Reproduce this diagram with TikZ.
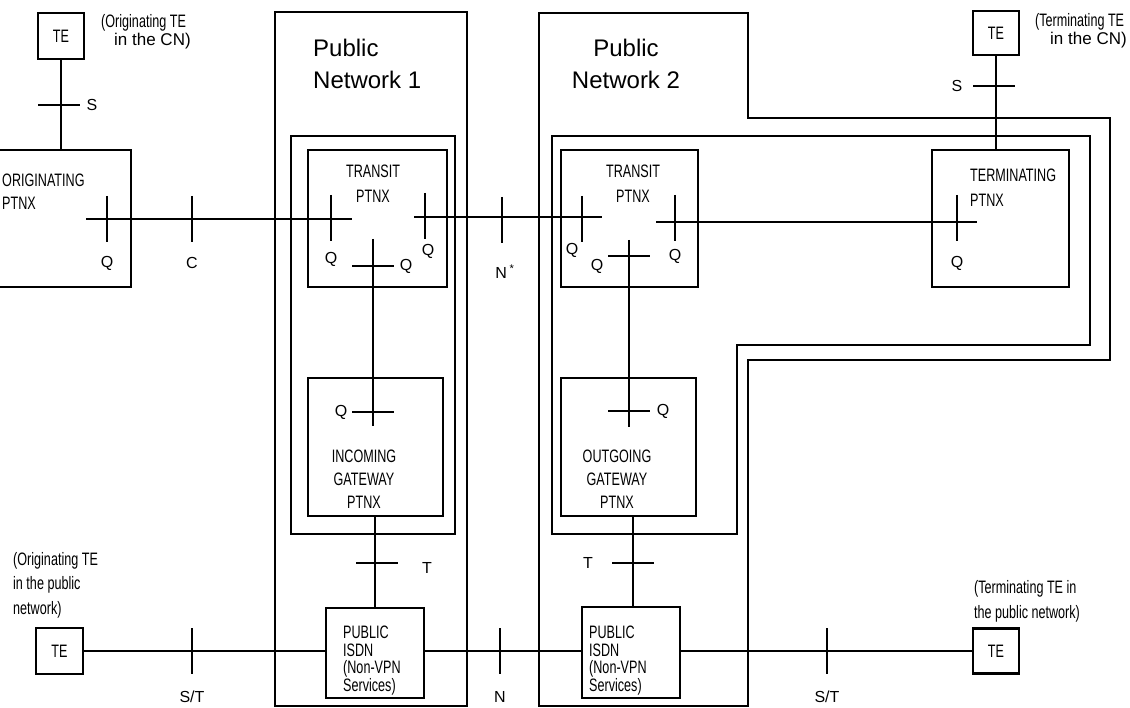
\documentclass[tikz,border=0pt]{standalone}
\usepackage{fontspec}
\setmainfont{Liberation Sans}
\newfontfamily\etroite[FakeStretch=0.7]{Liberation Sans}
\usepackage{tikz}

\begin{document}
\begin{tikzpicture}[x=1pt,y=-1pt,
	trait/.style={line width=2.2pt},
	boite/.style={draw,line width=2.2pt,inner sep=0pt},
	lettre/.style={inner sep=0pt,font=\fontsize{16}{18}\selectfont},
	etiquette/.style={inner sep=0pt,font=\etroite\fontsize{18}{25}\selectfont},
	grand/.style={inner sep=0pt,font=\fontsize{24}{32}\selectfont}]
	%
	% Barres d'interface
	\def\barreV(#1,#2){\draw[trait] (#1,#2-23) -- (#1,#2+23);}
	\def\barreH(#1,#2){\draw[trait] (#1-21,#2) -- (#1+21,#2);}
	%
	\useasboundingbox (0,0) rectangle (1130,708);
	%
	% Réseaux publics et VPN
	\draw[trait] (275,12) rectangle (467,706);
	\draw[trait] (291,136) rectangle (455,534);
	\draw[trait] (539,13) -- (748,13) -- (748,118) -- (1110,118) -- (1110,360) -- (748,360) -- (748,706) -- (539,706) -- cycle;
	\draw[trait] (552,136) -- (1090,136) -- (1090,345) -- (737,345) -- (737,534) -- (552,534) -- cycle;
	\node[grand,anchor=north west,align=left] (pn1) at (313,39) {Public\\Network 1};
	\node[grand,anchor=north,align=center] (pn2) at (626,39) {Public\\Network 2};
	%
	% PTNX
	\node[boite,minimum width=46,minimum height=46] (teO) at (61,36) {\etroite\fontsize{18}{20}\selectfont TE};
	\node[boite,minimum width=151,minimum height=137] (ptnxO) at (55.5,218.5) {};
	\node[boite,minimum width=139,minimum height=137] (tp1) at (377.5,218.5) {};
	\node[boite,minimum width=135,minimum height=138] (ig) at (375.5,447) {};
	\node[boite,minimum width=98,minimum height=90] (isdn1) at (375,653) {};
	\node[boite,minimum width=137,minimum height=137] (tp2) at (629.5,218.5) {};
	\node[boite,minimum width=135,minimum height=138] (og) at (628.5,447) {};
	\node[boite,minimum width=98,minimum height=91] (isdn2) at (631,652.5) {};
	\node[boite,minimum width=137,minimum height=137] (tT) at (1000.5,218.5) {};
	\node[boite,minimum width=46,minimum height=44] (teT) at (996,33) {\etroite\fontsize{18}{20}\selectfont TE};
	\node[boite,minimum width=47,minimum height=46] (teP1) at (59.5,651) {\etroite\fontsize{18}{20}\selectfont TE};
	\node[boite,minimum width=46,minimum height=45] (teP2) at (996,651) {\etroite\fontsize{18}{20}\selectfont TE};
	%
	% Textes des boites
	\node[etiquette,anchor=north west,align=left,font=\etroite\fontsize{18}{23}\selectfont] (txtO) at (2,174) {ORIGINATING\\PTNX};
	\node[etiquette,anchor=north,align=center] (txtT1) at (373,165) {TRANSIT\\PTNX};
	\node[etiquette,anchor=north,align=center] (txtT2) at (633,165) {TRANSIT\\PTNX};
	\node[etiquette,anchor=north west,align=left] (txtTerm) at (970,169) {TERMINATING\\PTNX};
	\node[etiquette,anchor=north,align=center,font=\etroite\fontsize{18}{23}\selectfont] (txtIg) at (364,450) {INCOMING\\GATEWAY\\PTNX};
	\node[etiquette,anchor=north,align=center,font=\etroite\fontsize{18}{23}\selectfont] (txtOg) at (617,450) {OUTGOING\\GATEWAY\\PTNX};
	\node[etiquette,anchor=north west,align=left,font=\etroite\fontsize{18}{17.5}\selectfont] (txtI1) at (343,626) {PUBLIC\\ISDN\\(Non-VPN\\Services)};
	\node[etiquette,anchor=north west,align=left,font=\etroite\fontsize{18}{17.5}\selectfont] (txtI2) at (589,626) {PUBLIC\\ISDN\\(Non-VPN\\Services)};
	%
	% Annotations des TE
	\node[etiquette,anchor=base west] (annO1) at (101,28) {(Originating TE};
	\node[lettre,anchor=base west,font=\fontsize{17}{20}\selectfont] (annO2) at (114,46) {in the CN)};
	\node[etiquette,anchor=base west] (annT1) at (1035,27) {(Terminating TE};
	\node[lettre,anchor=base west,font=\fontsize{17}{20}\selectfont] (annT2) at (1050,45) {in the CN)};
	\node[etiquette,anchor=north west,align=left,font=\etroite\fontsize{18}{24.5}\selectfont] (annP1) at (13,552) {(Originating TE\\in the public\\network)};
	\node[etiquette,anchor=north west,align=left] (annP2) at (974,580) {(Terminating TE in\\the public network)};
	%
	% Liaisons
	\coordinate (qOrig) at (86,219);
	\coordinate (qT1g) at (352,219);
	\coordinate (qT1d) at (414,217);
	\coordinate (qT2g) at (602,217);
	\coordinate (qT2d) at (656,222);
	\coordinate (qTerm) at (977,222);
	\coordinate (qT1b) at (373,239);
	\coordinate (qInc) at (373,426);
	\coordinate (qT2b) at (629,240);
	\coordinate (qOut) at (629,427);
	\draw[trait] (teO.south) -- (teO.south |- ptnxO.north);
	\draw[trait] (teT.south) -- (teT.south |- tT.north);
	\draw[trait] (qOrig) -- (qT1g);
	\draw[trait] (qT1d) -- (qT2g);
	\draw[trait] (qT2d) -- (qTerm);
	\draw[trait] (qT1b) -- (qInc);
	\draw[trait] (qT2b) -- (qOut);
	\draw[trait] (isdn1.north |- ig.south) -- (isdn1.north);
	\draw[trait] ([xshift=2]isdn2.north |- og.south) -- ([xshift=2]isdn2.north);
	\draw[trait] (teP1.east) -- (teP1.east -| isdn1.west);
	\draw[trait] (isdn1.east |- teP1.east) -- (isdn2.west |- teP1.east);
	\draw[trait] (isdn2.east |- teP1.east) -- (teP2.west |- teP1.east);
	%
	% Points de référence
	\barreH(59,105) \barreH(994,86)
	\barreV(107,219) \barreV(192,219) \barreV(331,218) \barreV(425,216) \barreV(502,220)
	\barreV(582,219) \barreV(675,218) \barreV(957,218)
	\barreH(373,266) \barreH(629,256) \barreH(373,412) \barreH(629,411)
	\barreH(377,563) \barreH(633,563)
	\barreV(192,651) \barreV(500,651) \barreV(827,651)
	%
	\node[lettre] (lS1) at (92,105) {S};
	\node[lettre] (lS2) at (957,86) {S};
	\node[lettre] (lQ1) at (107,263) {Q};
	\node[lettre] (lC) at (192,263) {C};
	\node[lettre] (lQ2) at (331,259) {Q};
	\node[lettre] (lQ3) at (406,266) {Q};
	\node[lettre] (lQ4) at (428,251) {Q};
	\node[lettre] (lN1) at (505,272) {N\,\textsuperscript{*}};
	\node[lettre] (lQ5) at (572,250) {Q};
	\node[lettre] (lQ6) at (597,266) {Q};
	\node[lettre] (lQ7) at (675,256) {Q};
	\node[lettre] (lQ8) at (957,263) {Q};
	\node[lettre] (lQ9) at (341,412) {Q};
	\node[lettre] (lQ10) at (663,411) {Q};
	\node[lettre] (lT1) at (427,568) {T};
	\node[lettre] (lT2) at (588,563) {T};
	\node[lettre] (lST1) at (192,697) {S/T};
	\node[lettre] (lN2) at (500,697) {N};
	\node[lettre] (lST2) at (827,697) {S/T};
\end{tikzpicture}
\end{document}
